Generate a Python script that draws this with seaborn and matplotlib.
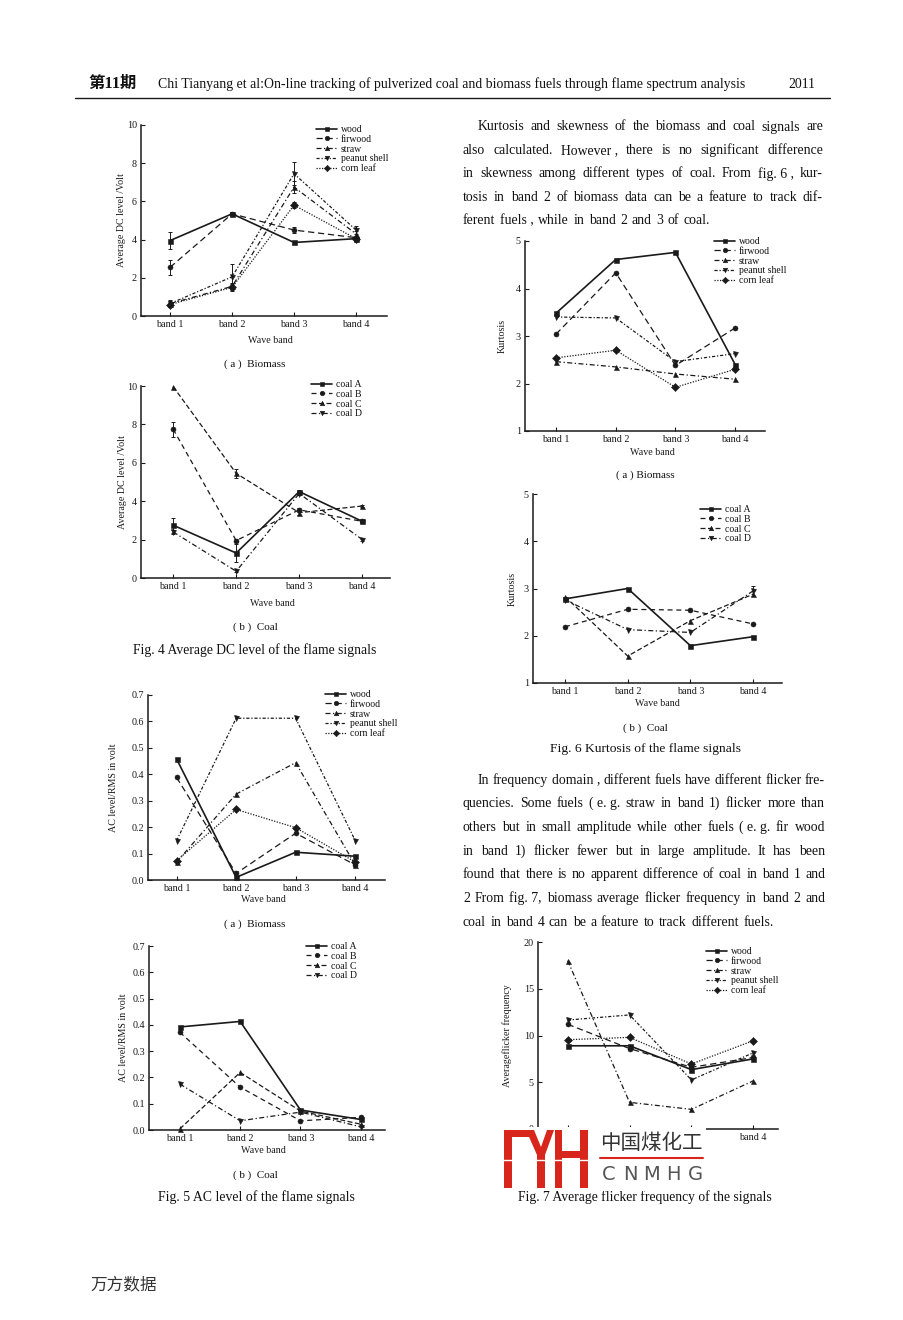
import numpy as np
import pandas as pd
import matplotlib
matplotlib.use("Agg")
import matplotlib.pyplot as plt
import matplotlib.transforms as mtransforms
from matplotlib.patches import Rectangle, Polygon
import seaborn as sns

W, H = 904, 1320

bands = ["band 1", "band 2", "band 3", "band 4"]
biomass = ["wood", "firwood", "straw", "peanut shell", "corn leaf"]
coals = ["coal A", "coal B", "coal C", "coal D"]

# Fig. 4  average DC level (Volt)
dc_biomass = {
    "wood":         [3.95, 5.35, 3.85, 4.05],
    "firwood":      [2.55, 5.35, 4.50, 4.10],
    "straw":        [0.65, 1.55, 6.75, 4.30],
    "peanut shell": [0.65, 2.05, 7.45, 4.50],
    "corn leaf":    [0.60, 1.50, 5.80, 4.05],
}
dc_biomass_err = {
    "wood":         [0.45, 0.10, 0.10, 0.10],
    "firwood":      [0.40, 0.00, 0.15, 0.10],
    "straw":        [0.20, 0.20, 0.30, 0.15],
    "peanut shell": [0.15, 0.65, 0.60, 0.20],
    "corn leaf":    [0.10, 0.20, 0.15, 0.10],
}
dc_coal = {
    "coal A": [2.75, 1.30, 4.50, 2.95],
    "coal B": [7.75, 1.95, 3.55, 2.95],
    "coal C": [9.97, 5.45, 3.40, 3.75],
    "coal D": [2.40, 0.35, 4.40, 2.00],
}
dc_coal_err = {
    "coal A": [0.40, 0.45, 0.10, 0.05],
    "coal B": [0.40, 0.10, 0.10, 0.05],
    "coal C": [0.00, 0.25, 0.10, 0.05],
    "coal D": [0.10, 0.05, 0.10, 0.05],
}

# Fig. 5  AC level / RMS (volt)
ac_biomass = {
    "wood":         [0.458, 0.010, 0.105, 0.090],
    "firwood":      [0.388, 0.025, 0.177, 0.057],
    "straw":        [0.068, 0.325, 0.444, 0.057],
    "peanut shell": [0.149, 0.612, 0.612, 0.149],
    "corn leaf":    [0.073, 0.267, 0.198, 0.068],
}
ac_coal = {
    "coal A": [0.392, 0.413, 0.076, 0.040],
    "coal B": [0.372, 0.163, 0.035, 0.048],
    "coal C": [0.004, 0.219, 0.072, 0.022],
    "coal D": [0.175, 0.035, 0.068, 0.012],
}

# Fig. 6  kurtosis
kurt_biomass = {
    "wood":         [3.48, 4.61, 4.76, 2.40],
    "firwood":      [3.04, 4.33, 2.38, 3.17],
    "straw":        [2.46, 2.35, 2.20, 2.09],
    "peanut shell": [3.40, 3.38, 2.46, 2.63],
    "corn leaf":    [2.54, 2.70, 1.92, 2.30],
}
kurt_coal = {
    "coal A": [2.78, 3.00, 1.79, 1.98],
    "coal B": [2.19, 2.56, 2.54, 2.25],
    "coal C": [2.83, 1.57, 2.32, 2.88],
    "coal D": [2.76, 2.13, 2.07, 2.95],
}
kurt_coal_err = {
    "coal A": [0.0, 0.0, 0.0, 0.0],
    "coal B": [0.0, 0.0, 0.0, 0.0],
    "coal C": [0.0, 0.0, 0.0, 0.0],
    "coal D": [0.0, 0.0, 0.0, 0.10],
}

# Fig. 7  average flicker frequency
flicker_biomass = {
    "wood":         [8.9, 8.9, 6.35, 7.5],
    "firwood":      [11.2, 8.6, 6.6, 7.65],
    "straw":        [18.0, 2.85, 2.1, 5.15],
    "peanut shell": [11.65, 12.2, 5.25, 8.15],
    "corn leaf":    [9.55, 9.8, 6.95, 9.45],
}

styles = {
    "wood":         ("-", "s", 1.2),
    "firwood":      ((0, (5, 3)), "o", 0.9),
    "straw":        ((0, (4, 2, 1, 2)), "^", 0.9),
    "peanut shell": ((0, (2.5, 1.5, 1, 1.5)), "v", 0.9),
    "corn leaf":    ((0, (1, 1.2)), "D", 0.9),
    "coal A":       ("-", "s", 1.2),
    "coal B":       ((0, (4, 3)), "o", 0.9),
    "coal C":       ((0, (4, 2)), "^", 0.9),
    "coal D":       ((0, (4, 2, 1, 2)), "v", 0.9),
}

sns.set_theme(style="ticks")
SERIF = ["Liberation Serif", "Noto Sans CJK SC", "DejaVu Sans"]
plt.rcParams["font.family"] = SERIF
plt.rcParams["text.color"] = "#111111"

fig = plt.figure(figsize=(W / 100, H / 100), dpi=100)
fig.patch.set_facecolor("white")
px = mtransforms.Affine2D().scale(1 / W, -1 / H).translate(0, 1) + fig.transFigure


def rect_px(l, t, r, b):
    return [l / W, 1 - b / H, (r - l) / W, (b - t) / H]


def draw_panel(box, xlim, ylim, yticks, fmt, values, errs, names,
               ylabel, ylab_x, xlab_xy, leg_xy):
    ax = fig.add_axes(rect_px(*box))
    ax.set_facecolor("white")
    pos = np.arange(len(bands))
    for name in names:
        ls, mk, lw = styles[name]
        df = pd.DataFrame({"pos": pos, "value": values[name]})
        sns.lineplot(data=df, x="pos", y="value", ax=ax, color="k",
                     linestyle=ls, linewidth=lw, marker=mk, markersize=3.6,
                     markeredgecolor="k", markeredgewidth=0.4, label=name)
        if errs is not None and np.any(np.array(errs[name]) > 0):
            e = np.array(errs[name])
            m = e > 0
            ax.errorbar(pos[m], np.array(values[name])[m], yerr=e[m], fmt="none",
                        ecolor="k", elinewidth=0.7, capsize=1.6, capthick=0.7)
    for ln in ax.lines:
        ln.set_clip_on(False)
    ax.set_xlim(*xlim)
    ax.set_ylim(*ylim)
    ax.set_xticks(pos)
    ax.set_xticklabels(bands)
    ax.set_yticks(yticks)
    ax.set_yticklabels([fmt.format(v) for v in yticks])
    ax.tick_params(direction="in", length=3, width=0.8, pad=3, labelsize=7.3,
                   colors="k")
    for s in ["top", "right"]:
        ax.spines[s].set_visible(False)
    for s in ["left", "bottom"]:
        ax.spines[s].set_linewidth(1.1)
        ax.spines[s].set_color("k")
    ax.set_ylabel(ylabel, fontsize=7.2, color="k")
    ax.yaxis.set_label_coords(ylab_x, (box[1] + box[3]) / 2, transform=px)
    ax.set_xlabel("Wave band", fontsize=7.2, color="k")
    ax.xaxis.set_label_coords(xlab_xy[0], xlab_xy[1], transform=px)
    ax.legend(loc="upper left", bbox_to_anchor=(leg_xy[0], leg_xy[1]),
              bbox_transform=px, frameon=False, fontsize=7, handlelength=2.2,
              handletextpad=0.35, labelspacing=0.08, borderpad=0,
              borderaxespad=0, markerscale=0.9)
    return ax


# Fig. 4
draw_panel((141, 125, 387, 316), (-0.47, 3.5), (0, 10), [0, 2, 4, 6, 8, 10], "{:.0f}",
           dc_biomass, dc_biomass_err, biomass, "Average DC level /Volt",
           126, (270, 336), (316, 125))
draw_panel((141, 386, 390, 578), (-0.51, 3.44), (0, 10), [0, 2, 4, 6, 8, 10], "{:.0f}",
           dc_coal, dc_coal_err, coals, "Average DC level /Volt",
           127, (272, 599), (311, 380))
# Fig. 5
draw_panel((148, 695, 385, 880), (-0.48, 3.5), (0, 0.7), [0, .1, .2, .3, .4, .5, .6, .7],
           "{:.1f}", ac_biomass, None, biomass, "AC level/RMS in volt",
           118, (263, 895), (325, 690))
draw_panel((149, 946, 385, 1130), (-0.51, 3.4), (0, 0.7), [0, .1, .2, .3, .4, .5, .6, .7],
           "{:.1f}", ac_coal, None, coals, "AC level/RMS in volt",
           128, (263, 1146), (306, 942))
# Fig. 6
draw_panel((525, 241, 765, 431), (-0.52, 3.5), (1, 5), [1, 2, 3, 4, 5], "{:.0f}",
           kurt_biomass, None, biomass, "Kurtosis",
           507, (652, 448), (714, 237))
draw_panel((533, 494, 782, 683), (-0.51, 3.46), (1, 5), [1, 2, 3, 4, 5], "{:.0f}",
           kurt_coal, kurt_coal_err, coals, "Kurtosis",
           517, (657, 699), (700, 505))
# Fig. 7
ax7 = draw_panel((538, 942, 778, 1129), (-0.48, 3.4), (0, 20), [0, 5, 10, 15, 20], "{:.0f}",
                 flicker_biomass, None, biomass, "Averageflicker frequency",
                 512, (660, 1146), (706, 947))
# the watermark hides everything on this axis left of band 4
for lab in ax7.get_xticklabels()[:3]:
    lab.set_visible(False)
ax7.xaxis.label.set_visible(False)

renderer = fig.canvas.get_renderer()


def put(x, y, s, size, ha="center", **kw):
    return fig.text(x, y, s, transform=px, fontsize=size, ha=ha, va="center", **kw)


def fit(x0, x1, y, s, size, **kw):
    t = put(x0, y, s, size, ha="left", **kw)
    w = t.get_window_extent(renderer).width
    t.set_fontsize(size * (x1 - x0) / w)
    return t


def line_j(x0, x1, y, s, size, justify=True):
    # "_" glues pieces that must not be spread apart
    words = [w.replace("_", " ") for w in s.split(" ")]
    arts = [put(0, y, w, size, ha="left") for w in words]
    widths = [a.get_window_extent(renderer).width for a in arts]
    if justify and len(words) > 1:
        gap = (x1 - x0 - sum(widths)) / (len(words) - 1)
    else:
        gap = size * 0.33 * 100 / 72
    x = x0
    for a, w in zip(arts, widths):
        a.set_position((x, y))
        x += w + gap


# header
fit(88, 136, 84, "第11期", 9, fontweight="bold")
fit(158, 740, 84, "Chi Tianyang et al:On-line tracking of pulverized coal and biomass fuels through flame spectrum analysis", 9)
fit(788, 815, 84, "2011", 9)
fig.add_artist(plt.Line2D([75, 830], [98, 98], transform=px, color="k", lw=1.0))

# captions
put(255, 364, "( a )  Biomass", 8)
put(255, 627, "( b )  Coal", 8)
fit(133, 376, 650, "Fig. 4 Average DC level of the flame signals", 9)
put(255, 924, "( a )  Biomass", 8)
put(255, 1175, "( b )  Coal", 8)
fit(158, 353, 1197, "Fig. 5 AC level of the flame signals", 9)
put(645, 475, "( a ) Biomass", 8)
put(645, 728, "( b )  Coal", 8)
fit(550, 740, 749, "Fig. 6 Kurtosis of the flame signals", 9)
fit(518, 772, 1197, "Fig. 7 Average flicker frequency of the signals", 9)

# body text
para1 = [
    "Kurtosis and skewness of the biomass and coal signals are",
    "also calculated. However_, there is no significant difference",
    "in skewness among different types of coal. From fig._6_, kur-",
    "tosis in band 2 of biomass data can be a feature to track dif-",
    "ferent fuels_, while in band 2 and 3 of coal.",
]
para2 = [
    "In frequency domain_, different fuels have different flicker fre-",
    "quencies. Some fuels (_e._g. straw in band 1) flicker more than",
    "others but in small amplitude while other fuels (_e._g. fir wood",
    "in band 1) flicker fewer but in large amplitude. It has been",
    "found that there is no apparent difference of coal in band 1 and",
    "2 From fig._7, biomass average flicker frequency in band 2 and",
    "coal in band 4 can be a feature to track different fuels.",
]
for i, s in enumerate(para1):
    line_j(478 if i == 0 else 463, 823, 127 + i * 23.4, s, 9.9, justify=i < len(para1) - 1)
for i, s in enumerate(para2):
    line_j(478 if i == 0 else 463, 825, 780 + i * 23.7, s, 9.9, justify=i < len(para2) - 1)

# watermark over fig. 7
red = "#d8261d"
fig.add_artist(Rectangle((495, 1127), 211, 64, transform=px, facecolor="white",
                         edgecolor="none", zorder=5))
for (x, y, w, h) in [(504, 1130, 8, 58), (504, 1130, 26, 7), (537, 1152, 8, 36),
                     (555, 1130, 7, 58), (580, 1130, 8, 58), (555, 1151, 33, 7)]:
    fig.add_artist(Rectangle((x, y), w, h, transform=px, facecolor=red,
                             edgecolor="none", zorder=6))
fig.add_artist(Polygon([(526, 1130), (534, 1130), (541, 1147), (547, 1130), (554, 1130),
                        (545, 1155), (537, 1155)], closed=True, transform=px,
                       facecolor=red, edgecolor="none", zorder=6))
fig.add_artist(plt.Line2D([503, 590], [1160, 1160], transform=px, color="white",
                          lw=1.0, zorder=7))
t = fit(600, 703, 1143, "中国煤化工", 14, color="#333333", family=["Noto Sans CJK SC"])
t.set_zorder(7)
fig.add_artist(plt.Line2D([600, 703], [1158, 1158], transform=px, color=red, lw=1.5, zorder=7))
for k, ch in enumerate("CNMHG"):
    tt = put(609 + k * 21.5, 1174, ch, 14, color="#555555", family=["DejaVu Sans"])
    tt.set_zorder(7)

# footer
put(90, 1285, "万方数据", 12, ha="left", color="#333333", family=["Noto Sans CJK SC"])

fig.savefig("out.png", dpi=100, facecolor="white")
